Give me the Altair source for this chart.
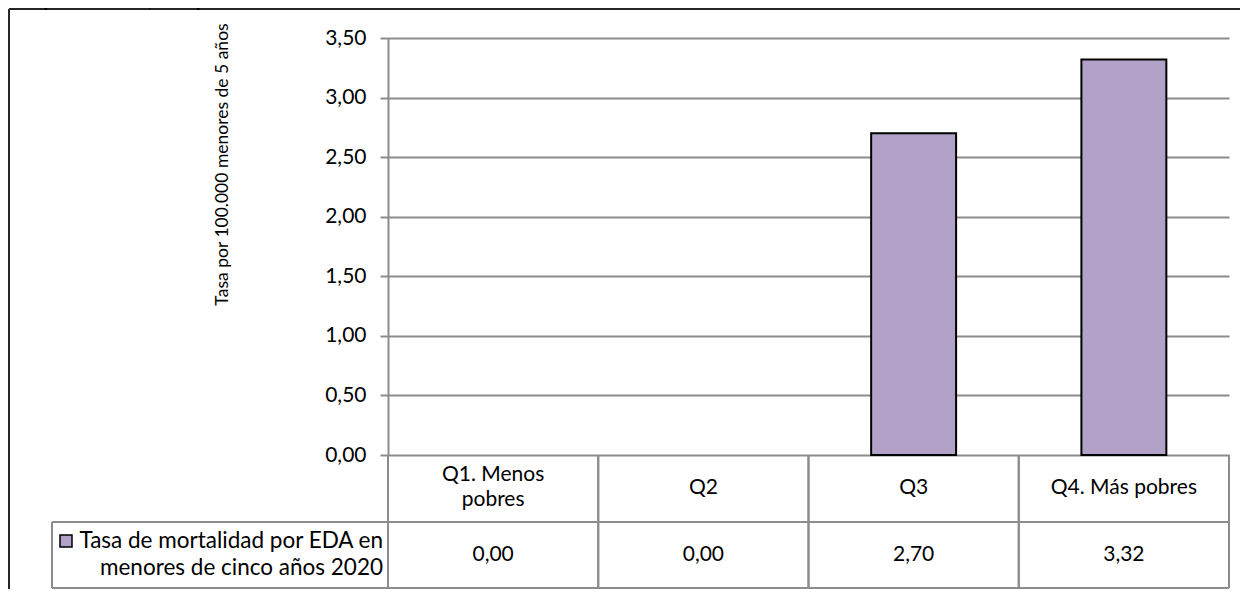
import altair as alt
import pandas as pd

# ---- data ----
categories = ["Q1. Menos pobres", "Q2", "Q3", "Q4. Más pobres"]
category_labels = ["Q1. Menos\npobres", "Q2", "Q3", "Q4. Más pobres"]
values = [0.00, 0.00, 2.70, 3.32]
series_name = "Tasa de mortalidad por EDA en\nmenores de cinco años 2020"
y_title = "Tasa por 100.000 menores de 5 años"
title_text = "de pobreza, departamento de Nariño 2020."
y_ticks = [0, 0.5, 1, 1.5, 2, 2.5, 3, 3.5]

df = pd.DataFrame({
    "cat": categories,
    "label": category_labels,
    "value": values,
    "vtext": [f"{v:.2f}".replace(".", ",") for v in values],
})

BAR = "#B3A2C7"
GRID = "#8c8c8c"
FONT = "Lato"
FS = 21

W, H = 841, 417

xscale = alt.Scale(domain=categories, paddingInner=0, paddingOuter=0)


def xcat(bp=None):
    if bp is None:
        return alt.X("cat:N", sort=categories, scale=xscale, axis=None)
    return alt.X("cat:N", sort=categories, scale=xscale, axis=None, bandPosition=bp)


base = alt.Chart(df)

bars = base.transform_filter("datum.value > 0").mark_bar(
    fill=BAR, stroke="#000000", strokeWidth=2,
    width=alt.RelativeBandSize(0.404)
).encode(
    x=xcat(),
    y=alt.Y("value:Q", scale=alt.Scale(domain=[0, 3.5], nice=False),
            axis=alt.Axis(values=y_ticks,
                          labelExpr="replace(format(datum.value, '.2f'), '.', ',')",
                          grid=True, gridColor=GRID, gridWidth=2,
                          domainColor=GRID, domainWidth=2,
                          tickColor=GRID, tickWidth=2, tickSize=8,
                          labelFont=FONT, labelFontSize=FS, labelColor="#000000",
                          labelPadding=14,
                          title=y_title, titleFont=FONT, titleFontSize=17.5,
                          titleFontWeight="normal", titleColor="#000000",
                          titleAngle=270, titleX=-166, titleY=126,
                          titleAlign="center", titleBaseline="middle")),
)

row1_multi = base.transform_filter("indexof(datum.label, '\\n') >= 0").mark_text(
    font=FONT, fontSize=FS, lineBreak="\n", lineHeight=25,
    baseline="middle", align="center", color="#000000").encode(
    x=xcat(), y=alt.value(437), text="label:N")

row1_single = base.transform_filter("indexof(datum.label, '\\n') < 0").mark_text(
    font=FONT, fontSize=FS, baseline="middle", align="center", color="#000000").encode(
    x=xcat(), y=alt.value(450), text="label:N")

row2 = base.mark_text(font=FONT, fontSize=FS, baseline="middle",
                      align="center", color="#000000").encode(
    x=xcat(), y=alt.value(517), text="vtext:N")

vleft = base.mark_rule(color=GRID, strokeWidth=2).encode(
    x=xcat(0), y=alt.value(H), y2=alt.value(550))
vright = base.mark_rule(color=GRID, strokeWidth=2).encode(
    x=xcat(1), y=alt.value(H), y2=alt.value(550))

one = alt.Chart(pd.DataFrame({"s": [series_name]}))

hmid = one.mark_rule(color=GRID, strokeWidth=2).encode(
    x=alt.value(-336), x2=alt.value(W), y=alt.value(484))
hbot = one.mark_rule(color=GRID, strokeWidth=2).encode(
    x=alt.value(-336), x2=alt.value(W), y=alt.value(550))
vleg = one.mark_rule(color=GRID, strokeWidth=2).encode(
    x=alt.value(-336), y=alt.value(484), y2=alt.value(550))

legsym = one.mark_point(shape="square", size=144, filled=True, fill=BAR,
                        stroke="#000000", strokeWidth=1.5, opacity=1).encode(
    x=alt.value(-322), y=alt.value(503))
legtext = one.mark_text(font=FONT, fontSize=22.5, lineBreak="\n", lineHeight=27,
                        align="right", baseline="middle", color="#000000").encode(
    x=alt.value(-5), y=alt.value(503), text="s:N")

ftop = one.mark_rule(color="#262626", strokeWidth=2).encode(
    x=alt.value(-379), x2=alt.value(W + 12), y=alt.value(-29))
fleft = one.mark_rule(color="#262626", strokeWidth=2).encode(
    x=alt.value(-379), y=alt.value(-29), y2=alt.value(560))

title = alt.Chart(pd.DataFrame({"t": [title_text]})).mark_text(
    font=FONT, fontSize=30, align="left", baseline="alphabetic", color="#000000").encode(
    x=alt.value(-386), y=alt.value(-33), text="t:N")

chart = alt.layer(
    bars, vleft, vright, hmid, hbot, vleg, row1_multi, row1_single, row2,
    legsym, legtext, ftop, fleft, title
).properties(
    width=W, height=H,
    autosize=alt.AutoSizeParams(type="none"),
    padding={"left": 380, "top": 30, "right": 11, "bottom": 134},
).configure_view(strokeWidth=0)

chart.save("out.html", embed_options={"renderer": "svg", "actions": False})
